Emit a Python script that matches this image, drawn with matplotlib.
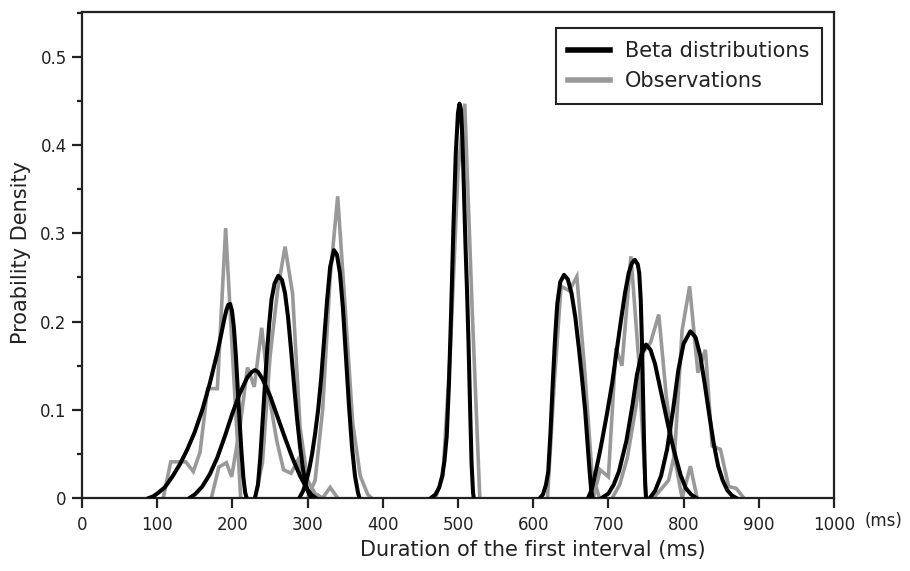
import matplotlib
matplotlib.use('Agg')
import matplotlib.pyplot as plt
from matplotlib.ticker import MultipleLocator

plt.rcParams['font.family'] = ['DejaVu Sans']

# ---------------- data ----------------
# Fitted beta distributions (black)
beta1_x = [89, 95, 100, 110, 120, 130, 140, 150, 160, 170, 180, 185, 189, 192, 194.5, 197, 199.5, 202, 204.5, 207, 209.5, 212, 214.5, 217, 219]
beta1_y = [0, 0.002, 0.005, 0.012, 0.024, 0.038, 0.055, 0.075, 0.1, 0.13, 0.165, 0.185, 0.202, 0.213, 0.219, 0.22, 0.212, 0.193, 0.163, 0.125, 0.088, 0.053, 0.024, 0.006, 0]

beta2_x = [143, 150, 160, 170, 180, 190, 200, 210, 220, 226, 230, 234, 240, 250, 260, 270, 280, 290, 300, 306, 311]
beta2_y = [0, 0.004, 0.013, 0.027, 0.046, 0.07, 0.096, 0.119, 0.137, 0.143, 0.145, 0.143, 0.135, 0.116, 0.092, 0.068, 0.045, 0.025, 0.009, 0.003, 0]

beta3_x = [230, 234, 237, 240, 243, 246, 249, 252, 256, 261, 266, 270, 274, 278, 282, 286, 290, 294, 298, 302, 306]
beta3_y = [0, 0.015, 0.045, 0.085, 0.125, 0.165, 0.198, 0.225, 0.243, 0.252, 0.247, 0.232, 0.205, 0.168, 0.128, 0.09, 0.058, 0.032, 0.014, 0.004, 0]

beta4_x = [289, 294, 298, 302, 306, 310, 314, 318, 322, 326, 330, 335, 339, 343, 347, 351, 355, 359, 363, 367, 369]
beta4_y = [0, 0.008, 0.018, 0.032, 0.05, 0.073, 0.1, 0.135, 0.18, 0.225, 0.262, 0.281, 0.276, 0.255, 0.215, 0.16, 0.105, 0.058, 0.025, 0.006, 0]

beta5_x = [464, 470, 475, 479, 482, 485, 488, 491, 494, 497, 500, 502, 504, 506, 508, 510, 512, 514, 516, 518, 520, 521]
beta5_y = [0, 0.004, 0.012, 0.025, 0.042, 0.07, 0.13, 0.215, 0.31, 0.39, 0.437, 0.447, 0.44, 0.405, 0.345, 0.285, 0.235, 0.175, 0.105, 0.04, 0.006, 0]

beta6_x = [609, 613, 617, 620, 623, 626, 629, 632, 636, 641, 646, 651, 656, 661, 665, 669, 672, 675, 677, 679]
beta6_y = [0, 0.004, 0.015, 0.03, 0.075, 0.13, 0.18, 0.22, 0.245, 0.253, 0.248, 0.232, 0.205, 0.168, 0.135, 0.1, 0.065, 0.03, 0.01, 0]

beta7_x = [673, 678, 684, 690, 698, 705, 711, 717, 722, 727, 731, 735, 739, 741, 743, 744.5, 746, 747.5, 749, 750]
beta7_y = [0, 0.01, 0.033, 0.058, 0.095, 0.13, 0.167, 0.203, 0.232, 0.255, 0.266, 0.27, 0.265, 0.255, 0.225, 0.18, 0.12, 0.06, 0.015, 0]

beta8_x = [691, 700, 707, 714, 724, 732, 738, 744, 750, 756, 762, 768, 775, 782, 789, 796, 803, 810, 817]
beta8_y = [0, 0.005, 0.015, 0.03, 0.065, 0.105, 0.14, 0.163, 0.174, 0.168, 0.152, 0.128, 0.1, 0.072, 0.048, 0.026, 0.011, 0.004, 0]

beta9_x = [755, 762, 770, 778, 786, 793, 800, 809, 816, 822, 828, 834, 840, 846, 852, 858, 864, 870]
beta9_y = [0, 0.008, 0.025, 0.055, 0.1, 0.145, 0.175, 0.189, 0.182, 0.162, 0.13, 0.095, 0.062, 0.036, 0.02, 0.009, 0.003, 0]

# Observed distributions (grey)
obs1_x = [108, 118, 128, 138, 148, 157, 167, 180, 191, 201, 211]
obs1_y = [0, 0.041, 0.041, 0.041, 0.030, 0.052, 0.124, 0.124, 0.306, 0.15, 0]

obs2_x = [172, 182, 192, 199, 210, 220, 229, 239, 249, 259, 268, 278, 287, 297, 307]
obs2_y = [0, 0.035, 0.04, 0.024, 0.08, 0.148, 0.126, 0.193, 0.115, 0.065, 0.032, 0.028, 0.043, 0.012, 0]

obs3_x = [230, 240, 250, 260, 270, 280, 290, 300, 310, 320, 330, 340]
obs3_y = [0, 0.04, 0.16, 0.235, 0.285, 0.232, 0.08, 0.02, 0.005, 0, 0.012, 0]

obs4_x = [300, 310, 320, 330, 340, 350, 360, 370, 380, 385]
obs4_y = [0, 0.02, 0.1, 0.25, 0.342, 0.215, 0.085, 0.025, 0.004, 0]

obs5_x = [470, 480, 490, 500, 509, 519, 529]
obs5_y = [0, 0.025, 0.17, 0.37, 0.447, 0.21, 0]

obs6_x = [619, 628, 637, 648, 658, 668, 678, 688]
obs6_y = [0, 0.13, 0.24, 0.235, 0.251, 0.15, 0.03, 0]

obs7_x = [680, 689, 700, 710, 718, 730, 740, 750]
obs7_y = [0, 0.032, 0.024, 0.17, 0.15, 0.274, 0.16, 0]

obs8_x = [705, 715, 725, 736, 746, 756, 767, 777, 787, 798, 809, 818]
obs8_y = [0, 0.015, 0.045, 0.1, 0.165, 0.176, 0.208, 0.115, 0.05, 0, 0.036, 0]

obs9_x = [760, 770, 780, 788, 798, 808, 819, 829, 838, 849, 860, 870, 880]
obs9_y = [0, 0.01, 0.02, 0.05, 0.19, 0.24, 0.142, 0.168, 0.059, 0.055, 0.013, 0.011, 0]

x_ticks = [0, 100, 200, 300, 400, 500, 600, 700, 800, 900, 1000]
y_ticks = [0, 0.1, 0.2, 0.3, 0.4, 0.5]
y_tick_labels = ['0', '0.1', '0.2', '0.3', '0.4', '0.5']

beta_series = [(beta1_x, beta1_y), (beta2_x, beta2_y), (beta3_x, beta3_y),
               (beta4_x, beta4_y), (beta5_x, beta5_y), (beta6_x, beta6_y),
               (beta7_x, beta7_y), (beta8_x, beta8_y), (beta9_x, beta9_y)]
obs_series = [(obs1_x, obs1_y), (obs2_x, obs2_y), (obs3_x, obs3_y),
              (obs4_x, obs4_y), (obs5_x, obs5_y), (obs6_x, obs6_y),
              (obs7_x, obs7_y), (obs8_x, obs8_y), (obs9_x, obs9_y)]

# ---------------- figure ----------------
W, H = 910, 571
fig = plt.figure(figsize=(W / 100, H / 100), dpi=100)
ax = fig.add_axes([82 / W, 1 - 498 / H, (834 - 82) / W, (498 - 12) / H])

grey = '#999999'
for i, (xs, ys) in enumerate(obs_series):
    ax.plot(xs, ys, color=grey, lw=2.6, solid_joinstyle='miter',
            label='Observations' if i == 0 else None, zorder=2)
for i, (xs, ys) in enumerate(beta_series):
    ax.plot(xs, ys, color='black', lw=2.9, solid_joinstyle='round',
            label='Beta distributions' if i == 0 else None, zorder=3)

ax.set_xlim(0, 1000)
ax.set_ylim(0, 0.551)
ax.set_xticks(x_ticks)
ax.set_yticks(y_ticks)
ax.set_yticklabels(y_tick_labels)
ax.yaxis.set_minor_locator(MultipleLocator(0.05))

spine_c = '#222222'
for s in ax.spines.values():
    s.set_color(spine_c)
    s.set_linewidth(1.6)

ax.tick_params(axis='both', which='major', direction='out', length=7, width=1.6,
               colors=spine_c, labelcolor='#222222', labelsize=12)
ax.tick_params(axis='x', which='major', pad=6)
ax.tick_params(axis='y', which='major', pad=4)
ax.tick_params(axis='y', which='minor', direction='out', length=3.5, width=1.6, colors=spine_c)
ax.tick_params(top=False, right=False)

ax.set_xlabel('Duration of the first interval (ms)', fontsize=15, color='#222222')
ax.xaxis.set_label_coords(0.6, -0.087)
ax.set_ylabel('Proability Density', fontsize=15, color='#222222')
ax.yaxis.set_label_coords(-0.068, 0.505)

fig.text(884 / W, 1 - 521 / H, '(ms)', ha='center', va='center', fontsize=12, color='#222222')

handles, labels = ax.get_legend_handles_labels()
order = [labels.index('Beta distributions'), labels.index('Observations')]
leg = ax.legend([handles[k] for k in order], [labels[k] for k in order],
                loc='upper right', bbox_to_anchor=(0.984, 0.967), borderaxespad=0,
                frameon=True, fancybox=False, edgecolor=spine_c, framealpha=1,
                fontsize=15, handlelength=2.0, handletextpad=0.7, borderpad=0.62,
                labelspacing=0.5)
leg.get_frame().set_linewidth(1.5)
for line in leg.get_lines():
    line.set_linewidth(4)
for t in leg.get_texts():
    t.set_color('#222222')

fig.savefig('out.png', dpi=100)
